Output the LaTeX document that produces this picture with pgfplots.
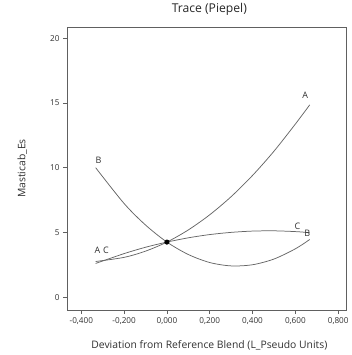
\documentclass[border=0pt]{standalone}
\usepackage{pgfplots}
\pgfplotsset{compat=1.18}
\usepackage{fontspec}
\setmainfont{Open Sans}
\usetikzlibrary{calc}
\definecolor{curve}{HTML}{666666}
\definecolor{axisgray}{HTML}{606060}
\definecolor{txt}{HTML}{303030}
\begin{document}
\begin{tikzpicture}
\begin{axis}[
  name=ax,
  scale only axis,
  width=280bp, height=283bp,
  xmin=-0.467, xmax=0.84,
  ymin=-1.0, ymax=20.85,
  xtick={-0.4,-0.2,0,0.2,0.4,0.6,0.8},
  ytick={0,5,10,15,20},
  tick align=outside,
  xtick pos=bottom, ytick pos=left,
  major tick length=4bp,
  axis line style={axisgray, line width=0.9pt},
  tick style={axisgray, line width=0.7pt},
  every tick label/.append style={font=\fontsize{8.2}{9}\selectfont, text=txt},
  /pgf/number format/assume math mode=true,
  xticklabel style={/pgf/number format/.cd, fixed, fixed zerofill, precision=3, use comma},
  yticklabel style={/pgf/number format/.cd, fixed, precision=0},
  xlabel={Deviation from Reference Blend (L\_Pseudo Units)},
  ylabel={Masticab\_Es},
  xlabel style={font=\fontsize{10.4}{11}\selectfont, text=txt, at={(axis description cs:0.509,-0.124)}, anchor=center},
  ylabel style={font=\fontsize{10.4}{11}\selectfont, text=txt, at={(axis description cs:-0.16,0.5)}, anchor=center},
  title={Trace (Piepel)},
  title style={font=\fontsize{12.2}{13}\selectfont, text=black!85, at={(axis description cs:0.509,1.042)}, anchor=center},
  clip=false,
]
% A
\addplot[curve, line width=0.75pt, smooth] coordinates {
(-0.333,2.75) (-0.2,3.07) (-0.1,3.55) (0,4.25) (0.1,5.19) (0.2,6.36)
(0.3,7.76) (0.4,9.40) (0.5,11.27) (0.6,13.37) (0.667,14.85)};
% B
\addplot[curve, line width=0.75pt, smooth] coordinates {
(-0.333,10.0) (-0.2,7.23) (-0.1,5.57) (0,4.25) (0.1,3.29) (0.2,2.67)
(0.3,2.41) (0.4,2.50) (0.5,2.94) (0.6,3.73) (0.667,4.45)};
% C
\addplot[curve, line width=0.75pt, smooth] coordinates {
(-0.333,2.6) (-0.2,3.36) (-0.1,3.85) (0,4.25) (0.1,4.58) (0.2,4.83)
(0.3,5.00) (0.4,5.10) (0.5,5.12) (0.6,5.06) (0.667,4.98)};
% reference blend
\addplot[only marks, mark=*, mark size=2.3pt, black] coordinates {(0,4.25)};
\node[font=\fontsize{9}{10}\selectfont, text=txt] at (axis cs:-0.32,10.55) {B};
\node[font=\fontsize{9}{10}\selectfont, text=txt] at (axis cs:0.646,15.6) {A};
\node[font=\fontsize{9}{10}\selectfont, text=txt] at (axis cs:0.61,5.5) {C};
\node[font=\fontsize{9}{10}\selectfont, text=txt] at (axis cs:0.656,4.95) {B};
\node[font=\fontsize{9}{10}\selectfont, text=txt] at (axis cs:-0.325,3.6) {A};
\node[font=\fontsize{9}{10}\selectfont, text=txt] at (axis cs:-0.285,3.65) {C};
\end{axis}
\useasboundingbox ($(ax.south west)+(-67bp,-45bp)$) rectangle ($(ax.north east)+(2bp,27bp)$);
\end{tikzpicture}
\end{document}
